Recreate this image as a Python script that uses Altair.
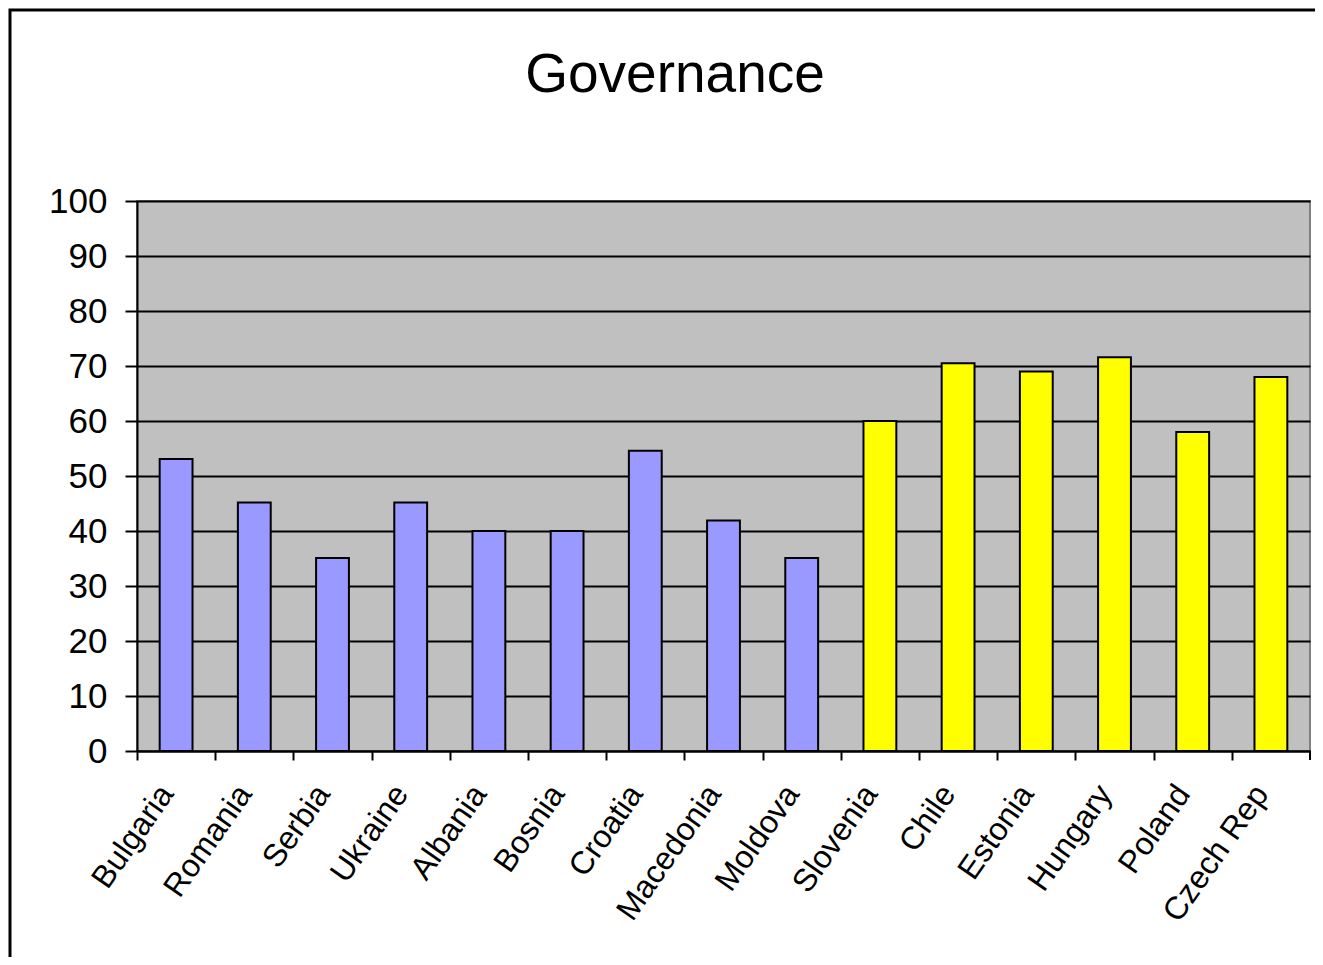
import altair as alt
import pandas as pd

title_text = ["Governance"]
countries = ["Bulgaria", "Romania", "Serbia", "Ukraine", "Albania", "Bosnia", "Croatia",
             "Macedonia", "Moldova", "Slovenia", "Chile", "Estonia", "Hungary", "Poland", "Czech Rep"]
values = [53.1, 45.2, 35.1, 45.2, 40, 40, 54.6, 41.9, 35.1, 60, 70.5, 69, 71.6, 58, 68]
groups = ["A"] * 9 + ["B"] * 6
group_colors = ["#9999FF", "#FFFF00"]

df = pd.DataFrame({"country": countries, "value": values, "group": groups})

FONT = "Liberation Sans"
STEP = 1173 / 15

x = alt.X("country:N", sort=None, title=None,
          scale=alt.Scale(paddingInner=0.58, paddingOuter=0.29),
          axis=alt.Axis(labelAngle=-55, labelAlign="right", labelBaseline="middle",
                        labelFontSize=32, labelFont=FONT, labelColor="black",
                        labelPadding=28, tickOffset=-STEP / 2, labelOffset=STEP / 2 - 10,
                        tickSize=9, tickWidth=2,
                        tickColor="black", domainColor="black", domainWidth=2,
                        grid=False))
y = alt.Y("value:Q", title=None,
          scale=alt.Scale(domain=[0, 100], nice=False),
          axis=alt.Axis(values=list(range(0, 101, 10)), labelFontSize=35, labelFont=FONT,
                        labelColor="black", labelPadding=18, tickSize=12, tickWidth=2,
                        tickColor="black", domainColor="black", domainWidth=2,
                        grid=True, gridColor="black", gridWidth=2, gridOpacity=1))

bars = alt.Chart(df).mark_bar(stroke="black", strokeWidth=2).encode(
    x=x, y=y,
    color=alt.Color("group:N", scale=alt.Scale(domain=["A", "B"], range=group_colors), legend=None),
)

aux = pd.DataFrame({"t": title_text})

frame = alt.Chart(aux).mark_rect(
    fill="white", fillOpacity=0, stroke="black", strokeWidth=3
).encode(
    x=alt.value(-127), x2=alt.value(1220), y=alt.value(-191), y2=alt.value(800)
)

last_tick = alt.Chart(aux).mark_rule(color="black", strokeWidth=2).encode(
    x=alt.value(1173), y=alt.value(550), y2=alt.value(559)
)

title = alt.Chart(aux).mark_text(
    font=FONT, fontSize=55, color="black", align="center", baseline="alphabetic"
).encode(
    text="t:N", x=alt.value(538), y=alt.value(-109)
)

chart = alt.layer(bars, last_tick, frame, title).properties(
    width=1173, height=550,
    padding={"left": 129, "top": 193, "right": 5, "bottom": 206},
    autosize=alt.AutoSizeParams(type="none"),
    background="white",
).configure_view(
    fill="#C0C0C0", stroke="#808080", strokeWidth=2
)

chart.save("out.html", embed_options={"renderer": "svg", "actions": False})
